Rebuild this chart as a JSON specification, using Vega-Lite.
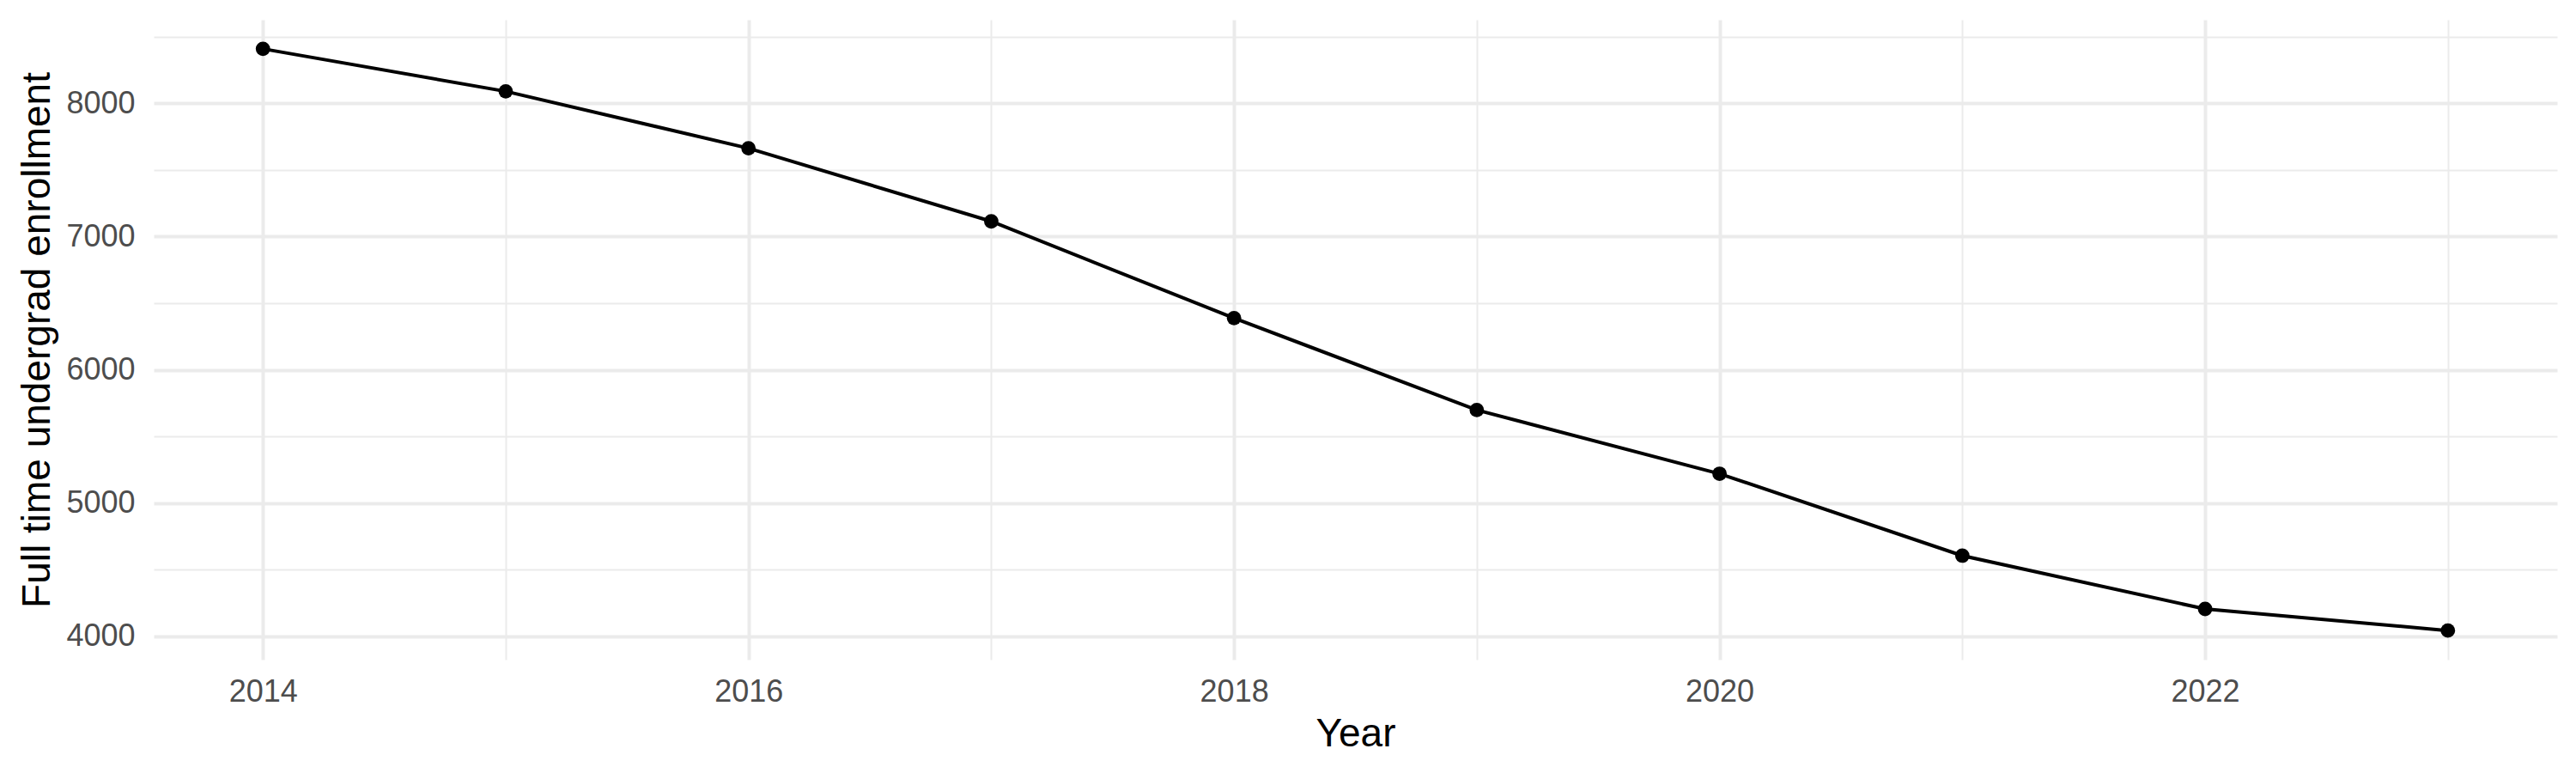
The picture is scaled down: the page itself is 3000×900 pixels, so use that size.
{
  "$schema": "https://vega.github.io/schema/vega-lite/v6.json",
  "width": 2799,
  "height": 745,
  "autosize": {"type": "none"},
  "padding": {"left": 179, "top": 23, "right": 22, "bottom": 132},
  "background": "white",
  "config": {"view": {"stroke": null}, "font": "Liberation Sans"},
  "data": {
    "values": [
      {"Year": 2014, "Enrollment": 8409},
      {"Year": 2015, "Enrollment": 8090},
      {"Year": 2016, "Enrollment": 7663},
      {"Year": 2017, "Enrollment": 7114},
      {"Year": 2018, "Enrollment": 6388},
      {"Year": 2019, "Enrollment": 5698},
      {"Year": 2020, "Enrollment": 5220},
      {"Year": 2021, "Enrollment": 4605},
      {"Year": 2022, "Enrollment": 4205},
      {"Year": 2023, "Enrollment": 4043}
    ]
  },
  "encoding": {
    "x": {
      "field": "Year",
      "type": "quantitative",
      "scale": {"domain": [2013.55, 2023.45], "nice": false, "zero": false},
      "axis": {
        "values": [2014, 2015, 2016, 2017, 2018, 2019, 2020, 2021, 2022, 2023],
        "format": "d",
        "labelExpr": "datum.value % 2 === 0 ? datum.label : ''",
        "grid": true,
        "gridColor": "#EBEBEB",
        "gridWidth": {"condition": {"test": "datum.value % 2 === 0", "value": 4}, "value": 2},
        "domain": false,
        "ticks": false,
        "tickSize": 0,
        "labelFont": "Liberation Sans",
        "labelFontSize": 36,
        "labelColor": "#4D4D4D",
        "labelPadding": 20,
        "labelFlush": false,
        "labelOverlap": false,
        "title": "Year",
        "titleFont": "Liberation Sans",
        "titleFontSize": 46,
        "titleFontWeight": "normal",
        "titleColor": "black",
        "titleBaseline": "alphabetic",
        "titleX": 1399.5,
        "titleY": 100
      }
    },
    "y": {
      "field": "Enrollment",
      "type": "quantitative",
      "scale": {"domain": [3824.7, 8627.3], "nice": false, "zero": false},
      "axis": {
        "values": [4000, 4500, 5000, 5500, 6000, 6500, 7000, 7500, 8000, 8500],
        "format": "d",
        "labelExpr": "datum.value % 1000 === 0 ? datum.label : ''",
        "grid": true,
        "gridColor": "#EBEBEB",
        "gridWidth": {"condition": {"test": "datum.value % 1000 === 0", "value": 4}, "value": 2},
        "domain": false,
        "ticks": false,
        "tickSize": 0,
        "labelFont": "Liberation Sans",
        "labelFontSize": 36,
        "labelColor": "#4D4D4D",
        "labelPadding": 22,
        "labelFlush": false,
        "labelOverlap": false,
        "title": "Full time undergrad enrollment",
        "titleFont": "Liberation Sans",
        "titleFontSize": 46,
        "titleFontWeight": "normal",
        "titleColor": "black",
        "titleBaseline": "alphabetic",
        "titleAngle": -90,
        "titleX": -122,
        "titleY": 372.5
      }
    }
  },
  "layer": [
    {"mark": {"type": "line", "color": "black", "strokeWidth": 4}},
    {"mark": {"type": "point", "filled": true, "color": "black", "opacity": 1, "size": 283}}
  ]
}
